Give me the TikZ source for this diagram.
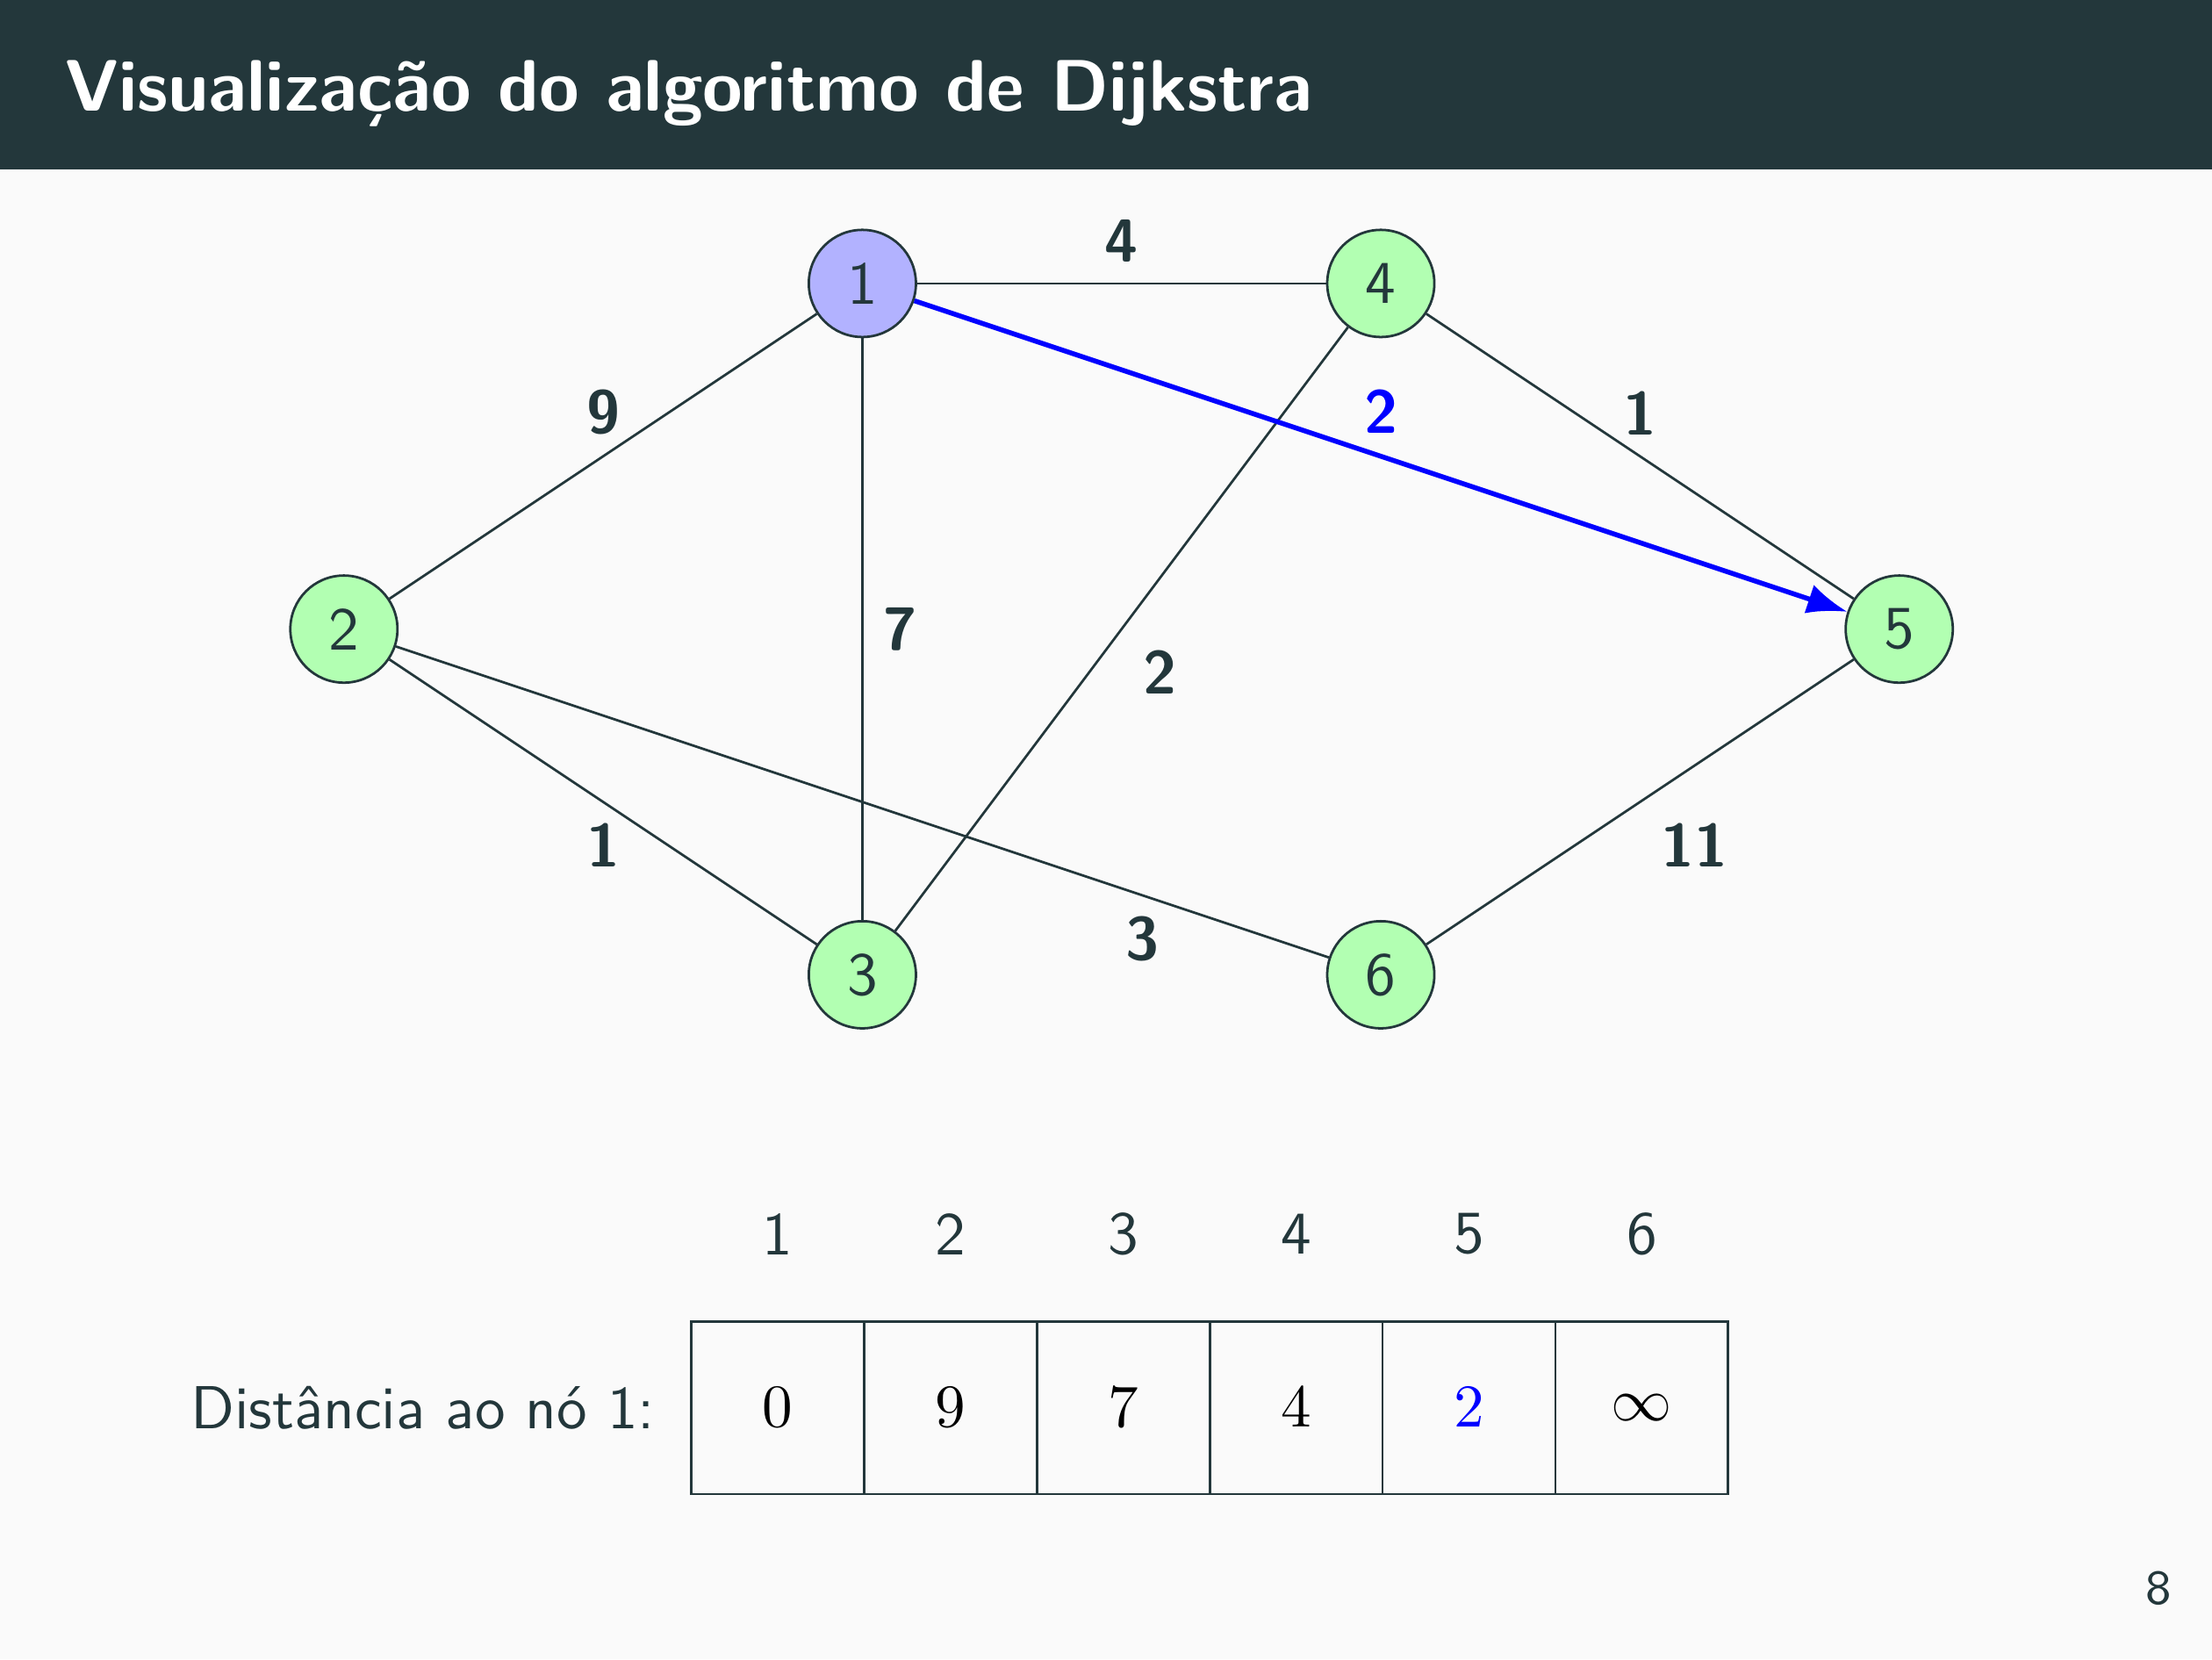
\documentclass[tikz,border=0pt]{standalone}
\renewcommand{\familydefault}{\sfdefault}
\usepackage{xcolor}
\usetikzlibrary{arrows.meta, positioning}
\definecolor{mDarkTeal}{HTML}{23373B}
\definecolor{mBg}{HTML}{FAFAFA}
\tikzstyle{vertex} = [circle, draw=mDarkTeal, fill=green!30, minimum size=0.62cm, inner sep=0pt, text=mDarkTeal, font=\normalsize]
\tikzstyle{link} = [draw=mDarkTeal, thin]
\tikzstyle{weight} = [text=mDarkTeal, font=\normalsize\bfseries]
\tikzstyle{chosen} = [blue, thick, -{Latex}]
\tikzstyle{cell} = [draw=mDarkTeal, minimum size=1cm, inner sep=0pt, font=\normalsize]

\begin{document}
\begin{tikzpicture}
            \useasboundingbox (0,0) rectangle (12.8,9.6);
            \fill[mBg] (0,0) rectangle (12.8,9.6);
            \fill[mDarkTeal] (0,8.62) rectangle (12.8,9.6);
            \node[anchor=base west, text=white, inner sep=0pt, font=\large\bfseries] (title) at (0.37,8.96) {Visualização do algoritmo de Dijkstra};

            % grafo
            \node[vertex] (n2) at (1.99,5.96) {2};
            \node[vertex, fill=blue!30] (n1) at (4.99,7.96) {1};
            \node[vertex] (n3) at (4.99,3.96) {3};
            \node[vertex] (n4) at (7.99,7.96) {4};
            \node[vertex] (n6) at (7.99,3.96) {6};
            \node[vertex] (n5) at (10.99,5.96) {5};

            \draw[link] (n1) -- node[weight, above] {4} (n4);
            \draw[link] (n2) -- node[weight, above] {9} (n1);
            \draw[link] (n4) -- node[weight, above] {1} (n5);
            \draw[link] (n1) -- node[weight, right] {7} (n3);
            \draw[link] (n4) -- node[weight, below right] {2} (n3);
            \draw[link] (n2) -- node[weight, below] {1} (n3);
            \draw[link] (n2) -- node[weight, below, pos=0.8] {3} (n6);
            \draw[link] (n6) -- node[weight, below right] {11} (n5);
            \draw[chosen] (n1) -- node[weight, above, text=blue] {2} (n5);

            % tabela
            \foreach \v [count=\i] in {0,9,7,4,{\color{blue}2},\infty}
                \node[cell] (c\i) at (3.5+\i,1.455) {$\v$};
            \foreach \i in {1,...,6}
                \node[text=mDarkTeal] (h\i) at (3.5+\i,2.46) {\i};
            \node[left=0.08cm of c1, text=mDarkTeal] (dist) {Distância ao nó 1:};

            \node[text=mDarkTeal, font=\footnotesize] (page) at (12.49,0.41) {8};
        \end{tikzpicture}
\end{document}
